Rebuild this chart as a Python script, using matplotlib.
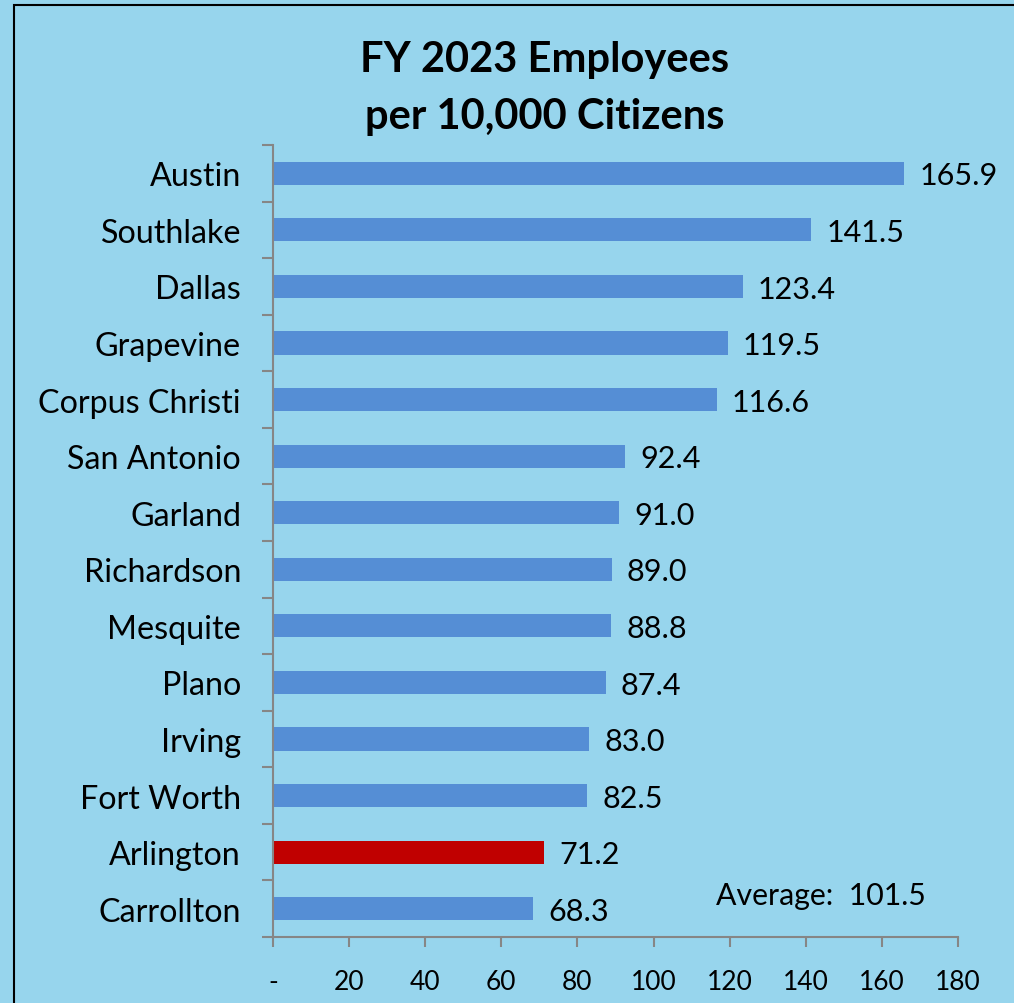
import matplotlib
matplotlib.use("Agg")
import matplotlib.pyplot as plt
from matplotlib.patches import Rectangle

plt.rcParams['font.family'] = ['Lato', 'DejaVu Sans']

cities = ["Austin", "Southlake", "Dallas", "Grapevine", "Corpus Christi", "San Antonio",
          "Garland", "Richardson", "Mesquite", "Plano", "Irving", "Fort Worth",
          "Arlington", "Carrollton"]
values = [165.9, 141.5, 123.4, 119.5, 116.6, 92.4, 91.0, 89.0, 88.8, 87.4, 83.0, 82.5, 71.2, 68.3]
highlight = "Arlington"
average = 101.5
xticks = [0, 20, 40, 60, 80, 100, 120, 140, 160, 180]
xticklabels = ["-", "20", "40", "60", "80", "100", "120", "140", "160", "180"]
title_lines = ["FY 2023 Employees", "per 10,000 Citizens"]

BG = "#97D5ED"
BLUE = "#558ED5"
RED = "#C00000"
GRAY = "#868686"

W, H = 1014, 1004
fig = plt.figure(figsize=(W / 100, H / 100), dpi=100)
fig.patch.set_facecolor(BG)

# outer border (extends beyond right/bottom edges)
fig.patches.append(Rectangle((14 / W, -0.1), 1.2, (1 - 6 / H) + 0.1, transform=fig.transFigure,
                             fill=False, edgecolor="black", linewidth=1.5))

ax = fig.add_axes([273 / W, 1 - 938 / H, (958 - 273) / W, (938 - 146) / H])
ax.set_facecolor(BG)

ypos = list(range(len(cities)))
colors = [RED if c == highlight else BLUE for c in cities]
ax.barh(ypos, values, height=0.41, color=colors, zorder=2)

ax.set_ylim(len(cities) - 0.5, -0.5)
ax.set_xlim(0, 180)

# value labels
for y, v in zip(ypos, values):
    ax.annotate(f"{v:.1f}", xy=(v, y), xytext=(11, -1.5), textcoords="offset points",
                ha="left", va="center", fontsize=22)

ax.text(116.4, 12.76, f"Average:  {average:.1f}", ha="left", va="center", fontsize=21.8)

# y axis: ticks at boundaries, labels at centers
ax.set_yticks([i - 0.5 for i in range(len(cities) + 1)])
ax.set_yticklabels([])
ax.set_yticks(ypos, minor=True)
ax.set_yticklabels(cities, minor=True, fontsize=23.2)
ax.tick_params(axis="y", which="major", length=8, width=1.5, color=GRAY, direction="out")
ax.tick_params(axis="y", which="minor", length=0, pad=23)

ax.set_xticks(xticks)
ax.set_xticklabels(xticklabels, fontsize=19)
ax.tick_params(axis="x", which="major", length=7, width=1.5, color=GRAY, direction="out", pad=16)

for s in ["top", "right"]:
    ax.spines[s].set_visible(False)
for s in ["left", "bottom"]:
    ax.spines[s].set_color(GRAY)
    ax.spines[s].set_linewidth(1.5)

fig.text(545 / W, 1 - 60 / H, title_lines[0], ha="center", va="center", fontsize=30, fontweight="bold")
fig.text(545 / W, 1 - 117 / H, title_lines[1], ha="center", va="center", fontsize=30, fontweight="bold")

fig.savefig("out.png", dpi=100, facecolor=BG)
